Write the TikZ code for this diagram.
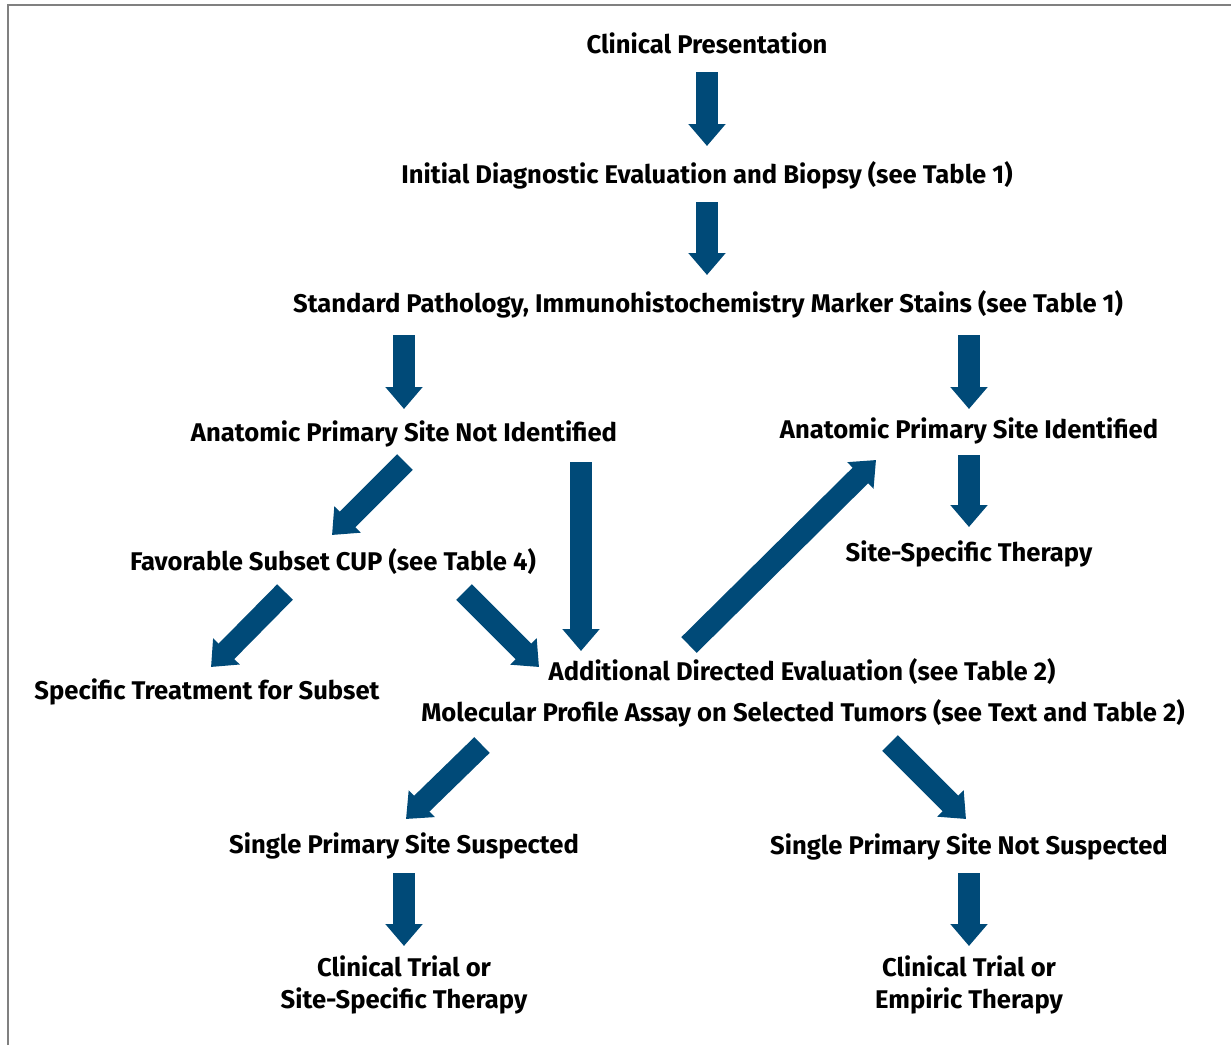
\documentclass[tikz,border=0pt]{standalone}
\usepackage{fontspec}
\setmainfont{Fira Sans}
\usetikzlibrary{arrows.meta,calc}
\definecolor{navy}{RGB}{0,74,120}
\begin{document}
\begin{tikzpicture}[x=1pt,y=-1pt,font=\fontsize{25.6}{32}\selectfont\bfseries,
	lbl/.style={inner sep=0pt,anchor=base,align=center},
	bigarrow/.style={navy,line width=22pt,-{Triangle[width=36pt,length=22pt]}}]
	\useasboundingbox (0,0) rectangle (1231,1045);
	\draw[gray,line width=1.5pt] (8,1045)--(8,5)--(1231,5);
	\node[lbl] (present) at (707,53) {Clinical Presentation};
	\node[lbl] (initdx) at (707,183) {Initial Diagnostic Evaluation and Biopsy (see Table 1)};
	\node[lbl] (stdpath) at (708,312) {Standard Pathology, Immunohistochemistry Marker Stains (see Table 1)};
	\node[lbl] (notid) at (404,441) {Anatomic Primary Site Not Identified};
	\node[lbl] (siteid) at (969,438) {Anatomic Primary Site Identified};
	\node[lbl] (sitether) at (969,561) {Site-Specific Therapy};
	\node[lbl] (favcup) at (333,570) {Favorable Subset CUP (see Table 4)};
	\node[lbl] (spectreat) at (207,699) {Specific Treatment for Subset};
	\node[lbl] (addeval) at (802,680) {Additional Directed Evaluation (see Table 2)};
	\node[lbl] (molprof) at (803,721) {Molecular Profile Assay on Selected Tumors (see Text and Table 2)};
	\node[lbl] (singsusp) at (404,853) {Single Primary Site Suspected};
	\node[lbl] (singnot) at (969,854) {Single Primary Site Not Suspected};
	\node[lbl] (trialsite) at (404,1008) {Clinical Trial or\\Site-Specific Therapy};
	\node[lbl] (trialemp) at (969,1008) {Clinical Trial or\\Empiric Therapy};
	\draw[bigarrow] ($(present.base)+(0,19)$) -- ($(initdx.base)+(0,-37)$);
	\draw[bigarrow] ($(initdx.base)+(0,19)$) -- ($(stdpath.base)+(-1,-37)$);
	\draw[bigarrow] ($(notid.base |- stdpath.base)+(0,23)$) -- ($(notid.base)+(0,-32)$);
	\draw[bigarrow] ($(siteid.base |- stdpath.base)+(0,23)$) -- ($(siteid.base)+(0,-29)$);
	\draw[bigarrow] ($(notid.base)+(1,21)$) -- ($(favcup.base)+(-1,-35)$);
	\draw[bigarrow] ($(notid.base)+(177,21)$) -- ($(addeval.base)+(-221,-29)$);
	\draw[bigarrow] ($(siteid.base)+(0,17)$) -- ($(sitether.base)+(0,-34)$);
	\draw[bigarrow] ($(addeval.base)+(-113,-35)$) -- ($(siteid.base)+(-93,22)$);
	\draw[bigarrow] ($(favcup.base)+(-48,22)$) -- ($(spectreat.base)+(4,-32)$);
	\draw[bigarrow] ($(favcup.base)+(131,22)$) -- ($(addeval.base)+(-263,-13)$);
	\draw[bigarrow] ($(molprof.base)+(-321,24)$) -- ($(singsusp.base)+(2,-34)$);
	\draw[bigarrow] ($(molprof.base)+(87,22)$) -- ($(singnot.base)+(-3,-35)$);
	\draw[bigarrow] ($(singsusp.base)+(0,20)$) -- ($(trialsite.base)+(0,-62)$);
	\draw[bigarrow] ($(singnot.base)+(0,19)$) -- ($(trialemp.base)+(0,-62)$);
\end{tikzpicture}
\end{document}
